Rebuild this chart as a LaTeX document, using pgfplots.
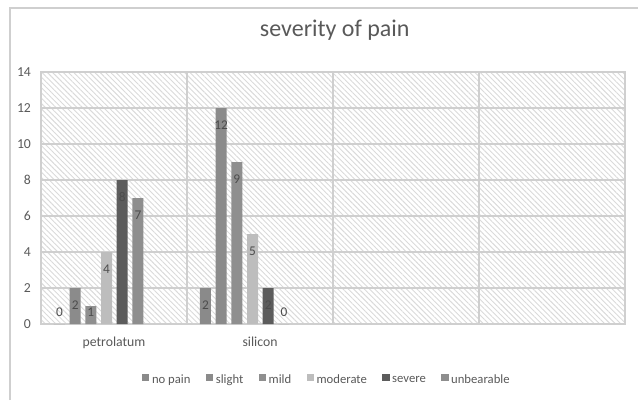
\documentclass[border=0pt]{standalone}
\usepackage{pgfplots}
\pgfplotsset{compat=1.18}
\usetikzlibrary{patterns.meta}
\usepackage{fontspec}
\setmainfont{Carlito}
\definecolor{txt}{HTML}{595959}
\definecolor{gridc}{HTML}{CFCFCF}
\definecolor{hatch}{HTML}{DADADA}
\definecolor{cnopain}{HTML}{8A8A8A}
\definecolor{cslight}{HTML}{8B8B8B}
\definecolor{cmild}{HTML}{8F8F8F}
\definecolor{cmod}{HTML}{BDBDBD}
\definecolor{csev}{HTML}{5C5C5C}
\definecolor{cunb}{HTML}{8E8E8E}
\pgfplotsset{
  lblbase/.style={forget plot, draw=none, fill=none, nodes near coords,
    every node near coord/.append style={font=\fontsize{10}{12}\selectfont, text=black!70, inner sep=0pt}},
  lblin/.style={lblbase, every node near coord/.append style={anchor=north, yshift=-9.4pt}},
  lbltop/.style={lblbase, every node near coord/.append style={anchor=north, yshift=-1.5pt}},
  lblzero/.style={lblbase, every node near coord/.append style={anchor=south, yshift=5pt}},
}
\begin{document}
\begin{tikzpicture}
\useasboundingbox (0,0) rectangle (478.5pt,300pt);
\draw[color=gridc, line width=0.8pt] (7.5pt,0) -- (7.5pt,294pt) -- (478.5pt,294pt);
\begin{axis}[
  at={(30.75pt,57pt)}, anchor=south west,
  scale only axis, width=438pt, height=189pt,
  xmin=-0.5, xmax=3.5, ymin=0, ymax=14,
  ytick={0,2,...,14},
  xtick={0,1}, xticklabels={petrolatum,silicon},
  minor xtick={0.5,1.5,2.5},
  ymajorgrids, xminorgrids,
  major grid style={draw=gridc, line width=0.9pt},
  minor grid style={draw=gridc, line width=0.9pt},
  axis line style={draw=gridc, line width=0.9pt},
  major tick length=0pt, minor tick length=0pt,
  /pgf/number format/assume math mode=true,
  tick label style={font=\fontsize{10.3}{12}\selectfont, text=txt},
  yticklabel style={xshift=-4pt},
  xticklabel style={yshift=-6pt},
  axis background/.style={pattern={Lines[angle=-45,distance=2.8pt,line width=0.7pt]}, pattern color=hatch},
  ybar, bar width=0.075,
  title={severity of pain},
  title style={at={(0.503,1.135)}, anchor=center, font=\fontsize{18}{21}\selectfont, text=txt},
  legend columns=6,
  legend style={at={(0.49,-0.222)}, anchor=center, draw=none, fill=none,
    font=\fontsize{9.5}{11}\selectfont, text=txt,
    /tikz/every even column/.append style={column sep=9.5pt}},
  legend image code/.code={\fill[#1] (0pt,-1pt) rectangle (5.5pt,4.5pt);},
]
\addplot[fill=cnopain, draw=none, bar shift=-0.374] coordinates {(0,0) (1,2)};
\addlegendentry{no pain}
\addplot[fill=cslight, draw=none, bar shift=-0.266] coordinates {(0,2) (1,12)};
\addlegendentry{slight}
\addplot[fill=cmild, draw=none, bar shift=-0.159] coordinates {(0,1) (1,9)};
\addlegendentry{mild}
\addplot[fill=cmod, draw=none, bar shift=-0.051] coordinates {(0,4) (1,5)};
\addlegendentry{moderate}
\addplot[fill=csev, draw=none, bar shift=0.056] coordinates {(0,8) (1,2)};
\addlegendentry{severe}
\addplot[fill=cunb, draw=none, bar shift=0.164] coordinates {(0,7) (1,0)};
\addlegendentry{unbearable}
% data labels
\addplot[lblzero, bar shift=-0.374] coordinates {(0,0)};
\addplot[lblin, bar shift=-0.374] coordinates {(1,2)};
\addplot[lblin, bar shift=-0.266] coordinates {(0,2) (1,12)};
\addplot[lbltop, bar shift=-0.159] coordinates {(0,1)};
\addplot[lblin, bar shift=-0.159] coordinates {(1,9)};
\addplot[lblin, bar shift=-0.051] coordinates {(0,4) (1,5)};
\addplot[lblin, bar shift=0.056] coordinates {(0,8) (1,2)};
\addplot[lblin, bar shift=0.164] coordinates {(0,7)};
\addplot[lblzero, bar shift=0.164] coordinates {(1,0)};
\end{axis}
\end{tikzpicture}
\end{document}
